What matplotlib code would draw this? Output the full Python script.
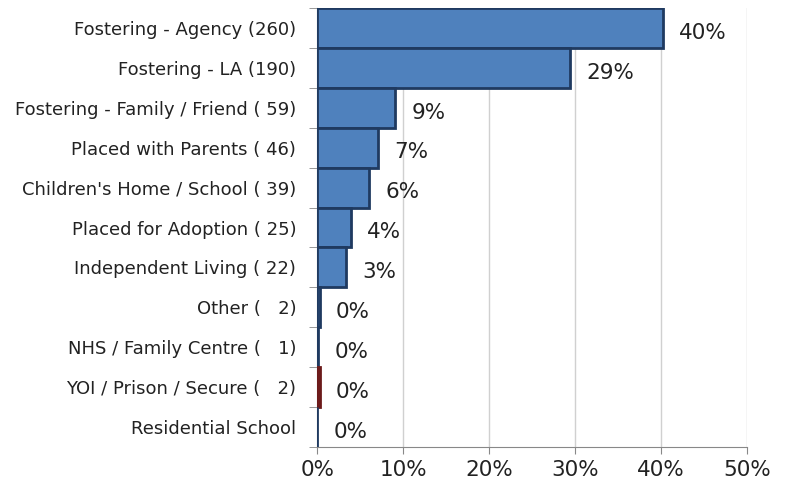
import numpy as np
import matplotlib
matplotlib.use("Agg")
import matplotlib.pyplot as plt

# placement categories (top to bottom) with counts in label
labels = ["Fostering - Agency (260)", "Fostering - LA (190)",
          "Fostering - Family / Friend ( 59)", "Placed with Parents ( 46)",
          "Children's Home / School ( 39)", "Placed for Adoption ( 25)",
          "Independent Living ( 22)", "Other (   2)", "NHS / Family Centre (   1)",
          "YOI / Prison / Secure (   2)", "Residential School"]
pct = [40.2, 29.4, 9.1, 7.1, 6.0, 3.9, 3.4, 0.3, 0.15, 0.3, 0.0]
pct_text = ["40%", "29%", "9%", "7%", "6%", "4%", "3%", "0%", "0%", "0%", "0%"]

blue = "#4F81BD"
fills = [blue] * 9 + ["#8B2A2A", blue]
edges = ["#1F3A60"] * 9 + ["#6B1A1A", "#1F3A60"]

fig = plt.figure(figsize=(7.87, 4.93), dpi=100)
ax = fig.add_axes([0.403, 0.093, 0.546, 0.891])

y = np.arange(len(labels))
ax.barh(y, [p / 100 for p in pct], height=1.0, color=fills, edgecolor=edges,
        linewidth=2, zorder=3)

for yi, p, t in zip(y, pct, pct_text):
    ax.text(p / 100 + 0.019, yi + 0.12, t, va="center", ha="left",
            fontsize=15.5, color="#222222")

ax.set_xlim(0, 0.5)
ax.set_ylim(len(labels) - 0.5, -0.5)
ax.set_xticks(np.arange(0, 0.51, 0.1))
ax.set_xticklabels(["0%", "10%", "20%", "30%", "40%", "50%"], fontsize=15.5,
                   color="#222222")
ax.set_yticks(y)
ax.set_yticklabels(labels, fontsize=13, color="#222222")
ax.set_yticks(np.arange(-0.5, len(labels), 1.0), minor=True)
ax.tick_params(axis="y", which="major", length=0, pad=15)
ax.tick_params(axis="y", which="minor", length=6, color="#888888", direction="out")
ax.tick_params(axis="x", length=5, color="#888888", pad=4)

ax.grid(axis="x", color="#d0d0d0", linewidth=1, zorder=0)
for s in ["top", "right"]:
    ax.spines[s].set_visible(False)
ax.spines["left"].set_color("#888888")
ax.spines["bottom"].set_color("#888888")

fig.savefig("out.png", dpi=100)
